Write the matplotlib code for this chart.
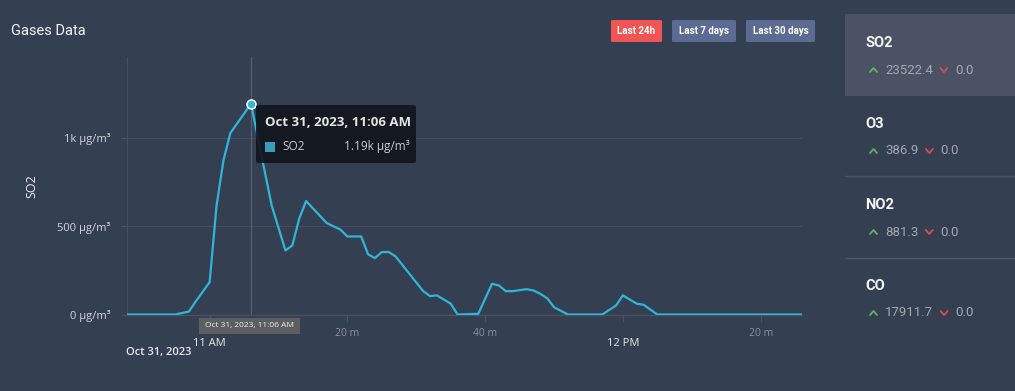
import matplotlib
matplotlib.use("Agg")
import matplotlib.pyplot as plt
from matplotlib.patches import FancyBboxPatch, Rectangle
from matplotlib.lines import Line2D
import pandas as pd

# ---------------- data ----------------
times = ["10:48", "10:55", "10:57", "10:58", "11:00", "11:01", "11:02", "11:03",
         "11:06", "11:09", "11:11", "11:12", "11:13", "11:14", "11:17", "11:19",
         "11:20", "11:22", "11:23", "11:24", "11:25", "11:26", "11:27", "11:31",
         "11:32", "11:33", "11:35", "11:36", "11:39", "11:41", "11:42", "11:43",
         "11:44", "11:46", "11:47", "11:48", "11:49", "11:50", "11:52", "11:57",
         "11:59", "12:00", "12:02", "12:03", "12:05", "12:26"]
so2 = [0, 0, 17, 75, 183, 615, 870, 1025,
       1190, 617, 362, 390, 541, 641, 517, 479,
       441, 441, 340, 319, 353, 353, 328, 132,
       104, 108, 61, 0, 4, 174, 164, 132,
       132, 143, 136, 117, 92, 41, 0, 0,
       51, 108, 61, 55, 0, 0]
date_str = "2023-10-31"
x_start, x_end = "10:48", "12:26"
major_ticks = ["11:00", "12:00"]
major_labels = ["11 AM", "12 PM"]
minor_ticks = ["11:20", "11:40", "12:20"]
minor_labels = ["20 m", "40 m", "20 m"]
y_ticks = [0, 500, 1000]
y_labels = ["0 µg/m³", "500 µg/m³", "1k µg/m³"]
hover_time = "11:06"
hover_value = 1190
gases = ["SO2", "O3", "NO2", "CO"]
gas_up = ["23522.4", "386.9", "881.3", "17911.7"]
gas_down = ["0.0", "0.0", "0.0", "0.0"]
buttons = ["Last 24h", "Last 7 days", "Last 30 days"]

W, H = 1015, 391
BG = "#353f52"
LINE = "#2fb6d9"
FONT = ["Roboto", "DejaVu Sans"]
FONT2 = ["Open Sans", "DejaVu Sans"]

def T(s):
    return pd.Timestamp(f"{date_str} {s}")

def P(x, y):
    return (x / W, 1 - y / H)

fig = plt.figure(figsize=(W / 100, H / 100), dpi=100, facecolor=BG)
renderer = fig.canvas.get_renderer()

# ---------------- chart ----------------
ax_l, ax_r, ax_t, ax_b = 127, 802, 57, 314.5
ax = fig.add_axes([ax_l / W, 1 - ax_b / H, (ax_r - ax_l) / W, (ax_b - ax_t) / H])
ax.set_facecolor(BG)
tx = [T(t) for t in times]
ax.plot(tx, so2, color=LINE, lw=1.6, zorder=3, solid_joinstyle="round")
ax.set_xlim(T(x_start), T(x_end))
ax.set_ylim(0, 1455)

for s in ["top", "right"]:
    ax.spines[s].set_visible(False)
ax.spines["left"].set_color("#454e60")
ax.spines["bottom"].set_color("#4a5263")
ax.spines["left"].set_linewidth(0.8)
ax.spines["bottom"].set_linewidth(1.0)

ax.set_yticks(y_ticks)
ax.set_yticklabels(y_labels, fontfamily=FONT2, fontsize=8, color="#d2d5da")
ax.tick_params(axis="y", length=4, width=0.8, color="#4a5263", pad=8)
ax.grid(axis="y", color="#434c5e", lw=0.8)

ax.set_xticks([T(t) for t in major_ticks])
ax.set_xticklabels(major_labels, fontfamily=FONT2, fontsize=8, color="#e8eaed")
ax.set_xticks([T(t) for t in minor_ticks], minor=True)
ax.set_xticklabels(minor_labels, minor=True, fontfamily=FONT2, fontsize=7.5, color="#8b919b")
ax.tick_params(axis="x", which="major", length=5, width=0.8, color="#4a5263", pad=12)
ax.tick_params(axis="x", which="minor", length=5, width=0.8, color="#4a5263", pad=5)

ax.set_ylabel("SO2", fontfamily=FONT2, fontsize=9, color="#eef0f2")
ax.yaxis.set_label_coords((38 - ax_l) / (ax_r - ax_l), 0.5)

# crosshair + hovered point
ax.axvline(T(hover_time), color="#59606d", lw=0.9, zorder=2)
ax.plot([T(hover_time)], [hover_value], marker="o", ms=6.5, mfc=LINE,
        mec="white", mew=1.1, zorder=5)

# date under axis
fig.text(*P(126, 353), "Oct 31, 2023", fontfamily=FONT2, fontsize=8,
         fontweight="semibold", color="#e8eaed", ha="left", va="center")

# crosshair x label
fig.patches.append(Rectangle(P(199, 334), 101 / W, 16 / H, transform=fig.transFigure,
                             facecolor="#5d5e60", edgecolor="none", zorder=6))
fig.text(*P(249.5, 326), "Oct 31, 2023, 11:06 AM", fontfamily=FONT2, fontsize=6,
         color="#f0f0f0", ha="center", va="center", zorder=7)

# tooltip
fig.patches.append(FancyBboxPatch(P(256, 163), 160 / W, 58 / H,
                                  boxstyle="round,pad=0,rounding_size=0.004",
                                  transform=fig.transFigure, facecolor="#11141b",
                                  edgecolor="none", alpha=0.9, zorder=8))
fig.text(*P(265, 123), "Oct 31, 2023, 11:06 AM", fontfamily=FONT2, fontsize=9.5,
         fontweight="bold", color="#e4e4e4", ha="left", va="center", zorder=9)
fig.patches.append(Rectangle(P(265, 152), 10 / W, 10 / H, transform=fig.transFigure,
                             facecolor="#3a9dbd", edgecolor="none", zorder=9))
fig.text(*P(282, 147), "SO2", fontfamily=FONT2, fontsize=8.5, color="#c9ccd1",
         ha="left", va="center", zorder=9)
fig.text(*P(410, 147), "1.19k µg/m³", fontfamily=FONT2, fontsize=8.5, color="#c9ccd1",
         ha="right", va="center", zorder=9)

# title
fig.text(*P(11, 31), "Gases Data", fontfamily=FONT, fontsize=10.5, color="#f2f4f7",
         ha="left", va="center")

# buttons
btn_x = [(611, 662), (672, 736), (746, 815)]
btn_c = ["#f05454", "#5c6b92", "#5c6b92"]
for (x0, x1), c, lab in zip(btn_x, btn_c, buttons):
    fig.patches.append(FancyBboxPatch(P(x0, 42), (x1 - x0) / W, 22 / H,
                                      boxstyle="round,pad=0,rounding_size=0.002",
                                      transform=fig.transFigure, facecolor=c,
                                      edgecolor="none"))
    fig.text(*P((x0 + x1) / 2, 31), lab, fontfamily=FONT, fontsize=7,
             fontweight="bold", color="white", ha="center", va="center")

# right panel
fig.patches.append(Rectangle(P(845, 96), 170 / W, 82 / H, transform=fig.transFigure,
                             facecolor="#4a5264", edgecolor="none"))
for ysep in [176.5, 257.5]:
    fig.add_artist(Line2D([845 / W, 1], [1 - ysep / H] * 2, color="#4b5567", lw=1))

name_y = [43, 124, 205, 286]
val_y = [70, 151, 232, 313]

def chevron(x, y, up, color):
    if up:
        xs, ys = [x - 3.5, x, x + 3.5], [y + 2, y - 2, y + 2]
    else:
        xs, ys = [x - 3.5, x, x + 3.5], [y - 2, y + 2, y - 2]
    fig.add_artist(Line2D([v / W for v in xs], [1 - v / H for v in ys],
                          color=color, lw=1.3, solid_capstyle="round"))

for g, up, dn, ny, vy in zip(gases, gas_up, gas_down, name_y, val_y):
    fig.text(*P(865, ny), g, fontfamily=FONT, fontsize=10.5, fontweight="bold",
             color="#f4f5f7", ha="left", va="center")
    chevron(873.5, vy, True, "#58b85c")
    t = fig.text(*P(885, vy), up, fontfamily=FONT, fontsize=9.5, color="#a3a8b1",
                 ha="left", va="center")
    bb = t.get_window_extent(renderer=renderer)
    x_end_px = bb.x1
    xd = x_end_px + 11
    chevron(xd, vy, False, "#e04a4a")
    fig.text(*P(xd + 11, vy), dn, fontfamily=FONT, fontsize=9.5, color="#a3a8b1",
             ha="left", va="center")

fig.savefig("out.png", dpi=100, facecolor=BG)
